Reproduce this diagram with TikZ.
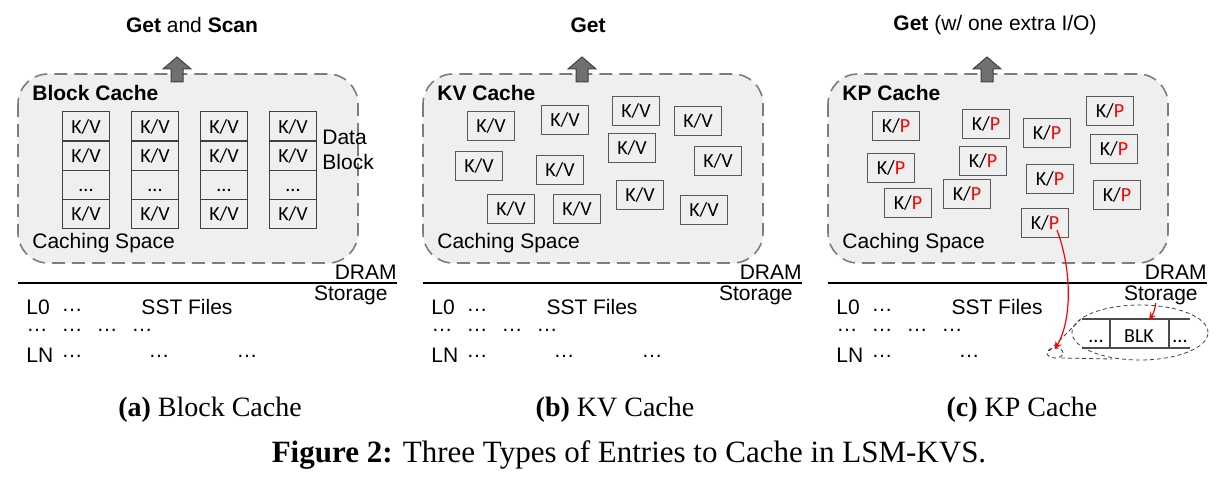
\documentclass[tikz,border=0pt]{standalone}
\usepackage{fontspec}
\setmainfont{Liberation Sans}
\newfontfamily\kvfam{Carlito}
\newfontfamily\capfam{Liberation Serif}
\usetikzlibrary{positioning}
\definecolor{spacegray}{RGB}{239,239,239}
\definecolor{dashgray}{RGB}{125,125,125}
\definecolor{upgray}{RGB}{112,112,112}

\begin{document}
\begin{tikzpicture}[x=0.5pt,y=-0.5pt,>=stealth,
  cachebox/.style={draw=dashgray,fill=spacegray,line width=0.8pt,dash pattern=on 6.5pt off 3.5pt,rounded corners=15pt},
  upar/.style={fill=upgray,draw=black!75,line width=0.5pt},
  lbl/.style={inner sep=0pt,font=\fontsize{10.5}{12.5}\selectfont},
  cachename/.style={lbl,anchor=west,font=\bfseries\fontsize{10.5}{12.5}\selectfont},
  cell/.style={draw=black!75,line width=0.6pt,minimum width=23.5pt,minimum height=14.6pt,inner sep=0pt,outer sep=0pt,font=\kvfam\fontsize{10}{12}\selectfont},
  entry/.style={cell,draw=black!65,line width=0.8pt,minimum height=14.5pt},
  redar/.style={->,red,line width=0.6pt},
  zoomline/.style={draw=black!75,line width=0.4pt,dash pattern=on 2pt off 1.5pt},
  subcap/.style={font=\capfam\fontsize{14}{16}\selectfont}]
\useasboundingbox (0,0) rectangle (1230,480);

% caching spaces and the shared parts of each panel
\foreach \p/\o in {a/0,b/405,c/810} {
  \begin{scope}[shift={(\o,0)}]
    \draw[cachebox] (18,74) rectangle (358,263);
    \draw[upar] (163,69) -- (177,57) -- (191,69) -- (183,69) -- (183,82) -- (171,82) -- (171,69) -- cycle;
    \node[lbl,anchor=west] (space\p) at (32,243) {Caching Space};
    % DRAM / storage
    \draw[line width=0.8pt] (18,283) -- (397,283);
    \node[lbl,anchor=east] (dram\p) at (397,272) {DRAM};
    \node[lbl,anchor=east] (storage\p) at (388,295) {Storage};
    % SST files
    \node[lbl,anchor=west] (lzero\p) at (26,307) {L0};
    \node[lbl,anchor=west] (lnum\p) at (26,355) {LN};
    \node[lbl] (sst\p) at (187,307) {SST Files};
    \node[lbl] (dzero\p) at (72,310) {…};
    \foreach \x [count=\i] in {37,72,107,142}
      \node[lbl] (dmid\p\i) at (\x,330) {…};
    \node[lbl] (dlast\p1) at (72,356) {…};
    \node[lbl] (dlast\p2) at (159,356) {…};
  \end{scope}
}
\node[lbl] (dlasta3) at (247,356) {…};
\node[lbl] (dlastb3) at (652,356) {…};

% titles
\node[lbl] (titlea) at (192,25) {\textbf{Get} and \textbf{Scan}};
\node[lbl] (titleb) at (588,25) {\textbf{Get}};
\node[lbl] (titlec) at (995,25) {\textbf{Get} (w/ one extra I/O)};

% (a) block cache
\node[cachename] (namea) at (32,93) {Block Cache};
\foreach \c in {0,...,3} {
  \node[cell] (a\c-1) at (86+69*\c,126.5) {K/V};
  \node[cell,below=0pt of a\c-1] (a\c-2) {K/V};
  \node[cell,below=0pt of a\c-2] (a\c-3) {\vphantom{K}...};
  \node[cell,below=0pt of a\c-3] (a\c-4) {K/V};
}
\node[lbl,anchor=west,align=left] (datablk) at (322,150) {Data\\Block};

% (b) KV cache
\node[cachename] (nameb) at (437,93) {KV Cache};
\foreach \x/\y [count=\i] in {491/126,565/120,636/111,698/121,632/148,479/166,560/170,718/161,640/195,511/209,577/209,704/210}
  \node[entry] (kv\i) at (\x,\y) {K/V};

% (c) KP cache
\node[cachename] (namec) at (842,93) {KP Cache};
\foreach \x/\y [count=\i] in {896/126,986/124,1047/133,1110/111,891/168,983/161,1114/149,908/203,967/194,1050/179,1117/195,1045/223}
  \node[entry] (kp\i) at (\x,\y) {K/\textcolor{red}{P}};

% magnified block in storage
\coordinate (spot) at (1055,349);
\draw[zoomline] (1055,353) ellipse [x radius=4pt,y radius=2.5pt];
\draw[zoomline] (1140,332.5) ellipse [x radius=34pt,y radius=13.75pt];
\draw[zoomline] (1049,351) -- (1080,320);
\draw[zoomline] (1061,358) -- (1112,359);
\draw[black!70,line width=0.6pt] (1082,319) -- (1190,319) (1082,348) -- (1190,348)
  (1110,319) -- (1110,348) (1169,319) -- (1169,348);
\node[cell,draw=none] (blkleft) at (1096,336) {\vphantom{K}...};
\node[cell,draw=none,minimum width=0pt] (blk) at (1139,336) {BLK};
\node[cell,draw=none] (blkright) at (1180,336) {\vphantom{K}...};
\draw[redar] ([xshift=6pt,yshift=-3.5pt]kp12.center) .. controls (1072,270) and (1072,320) .. (spot);
\draw[redar] ([xshift=-2.5pt,yshift=1pt]storagec.south) to[bend left=15] ([xshift=5pt,yshift=1pt]blk.north);

% captions
\node[subcap] (capa) at (210,410) {\textbf{(a)} Block Cache};
\node[subcap] (capb) at (615,410) {\textbf{(b)} KV Cache};
\node[subcap] (capc) at (1022,410) {\textbf{(c)} KP Cache};
\node[font=\capfam\fontsize{15.5}{18}\selectfont] (figcap) at (629,455) {\textbf{Figure 2:} Three Types of Entries to Cache in LSM-KVS.};
\end{tikzpicture}
\end{document}
